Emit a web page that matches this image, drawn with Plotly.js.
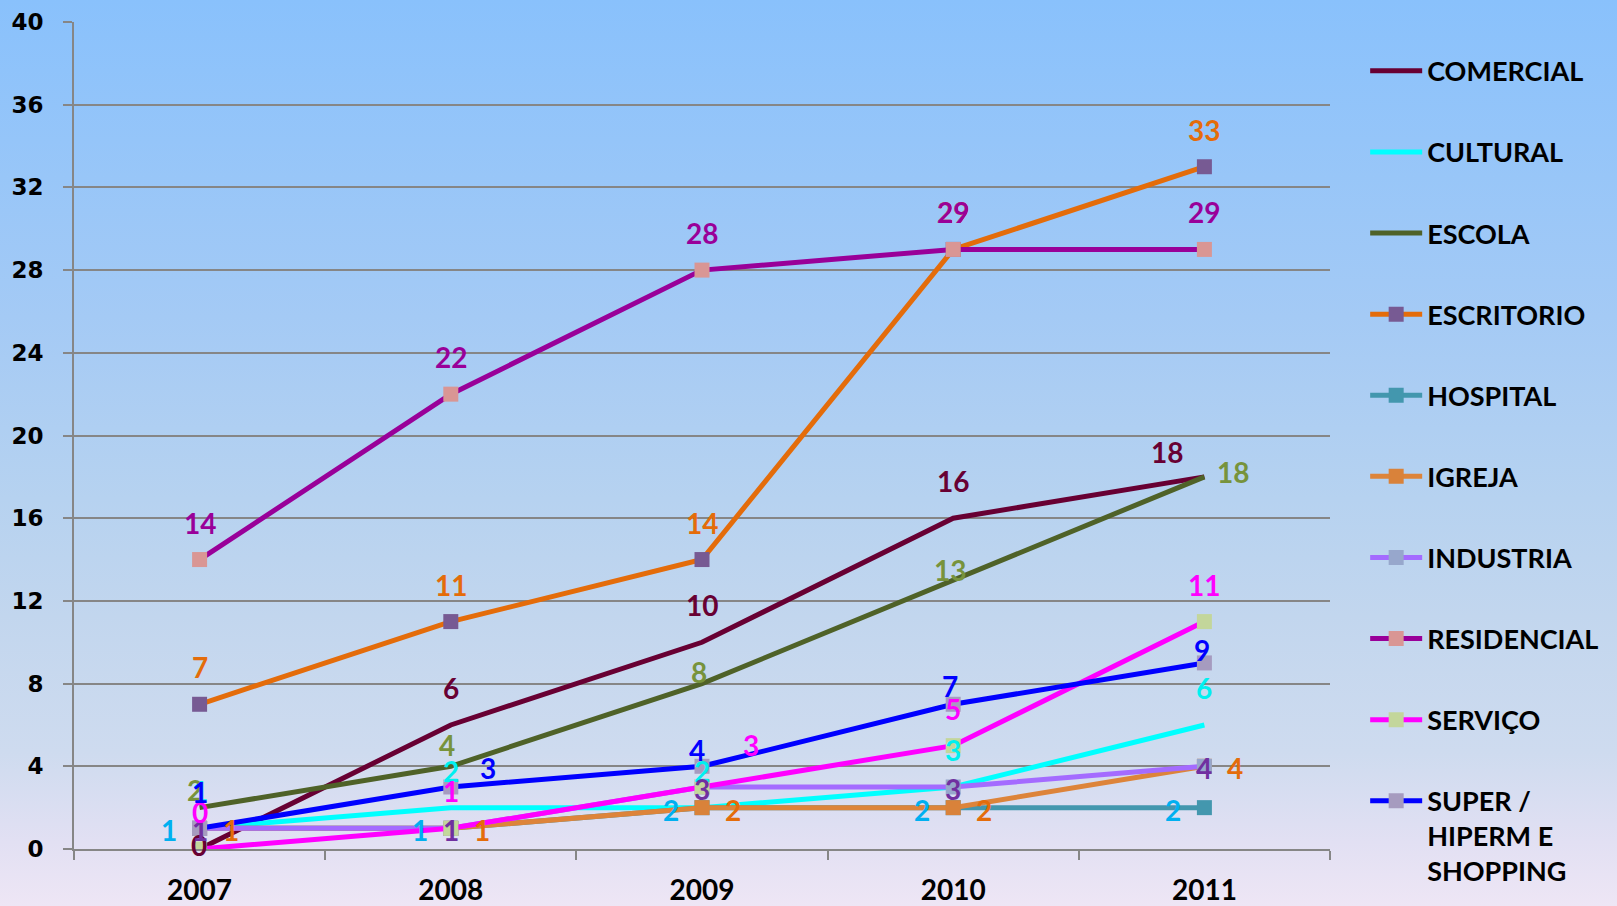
<!DOCTYPE html>
<html>
<head>
<meta charset="utf-8">
<script src="https://cdn.plot.ly/plotly-3.0.1.min.js"></script>
<style>
  html, body { margin: 0; padding: 0; width: 1617px; height: 906px; overflow: hidden; }
  body { background: linear-gradient(to bottom, #89C1FC 0%, #A4CAF5 35%, #B6D2F0 55%, #C2D6EE 68%, #CEDBEF 83%, #E2E0F3 93%, #EEE6F5 100%); }
  #chart { width: 1617px; height: 906px; }
</style>
</head>
<body>
<div id="chart"></div>
<script>
// ---- data ----
const years = ['2007', '2008', '2009', '2010', '2011'];
const comercial   = [0, 6, 10, 16, 18];
const cultural    = [1, 2, 2, 3, 6];
const escola      = [2, 4, 8, 13, 18];
const escritorio  = [7, 11, 14, 29, 33];
const hospital    = [1, 1, 2, 2, 2];
const igreja      = [1, 1, 2, 2, 4];
const industria   = [1, 1, 3, 3, 4];
const residencial = [14, 22, 28, 29, 29];
const servico     = [0, 1, 3, 5, 11];
const superHiper  = [1, 3, 4, 7, 9];
const seriesNames = ['COMERCIAL', 'CULTURAL', 'ESCOLA', 'ESCRITORIO', 'HOSPITAL', 'IGREJA',
                     'INDUSTRIA', 'RESIDENCIAL', 'SERVIÇO', 'SUPER /<br>HIPERM E<br>SHOPPING'];
const yTickValues = [0, 4, 8, 12, 16, 20, 24, 28, 32, 36, 40];

const seriesValues = [comercial, cultural, escola, escritorio, hospital, igreja,
                      industria, residencial, servico, superHiper];

// ---- styles ----
const A = [0, 37]; // label above point (xshift, yshift)
const styles = [
  { line: '#680033', marker: null,      label: '#680033', off: [[-1, 4], A, A, A, [-37, 25]] },
  { line: '#00FFFF', marker: null,      label: '#00F0F0', off: [A, A, A, A, A] },
  { line: '#4F6228', marker: null,      label: '#77933C', off: [[-5, 18], [-4, 21], [-3, 12], [-3, 10], [29, 5]] },
  { line: '#E46C0A', marker: '#775A93', label: '#E46C0A', off: [A, A, A, A, A] },
  { line: '#4397AE', marker: '#4397AE', label: '#00B0F0', off: [[-31, -2], [-31, -2], [-31, -2], [-31, -2], [-31, -2]] },
  { line: '#DD843A', marker: '#D9823A', label: '#E46C0A', off: [[31, -2], [31, -2], [31, -2], [31, -2], [31, -2]] },
  { line: '#A46BFF', marker: '#97A7CC', label: '#7030A0', off: [[0, -2], [0, -2], [0, -2], [0, -2], [0, -2]] },
  { line: '#990099', marker: '#D99694', label: '#990099', off: [A, A, A, A, A] },
  { line: '#FF00FF', marker: '#C3D69B', label: '#FF00FF', off: [A, A, [49, 42], A, A] },
  { line: '#0000FF', marker: '#A69BBF', label: '#0000FF', off: [[0, 36], [37, 19], [-5, 16], [-3, 18], [-2, 13]] }
];

const labelFont = 'Lato, "Open Sans", sans-serif';

const traces = seriesValues.map((vals, i) => {
  const st = styles[i];
  const t = {
    type: 'scatter',
    x: years,
    y: vals,
    name: seriesNames[i],
    legendgroup: 'g' + i,
    mode: st.marker ? 'lines+markers' : 'lines',
    line: { color: st.line, width: 5 },
    hoverinfo: 'x+y+name'
  };
  if (st.marker) t.marker = { symbol: 'square', size: 15, color: st.marker, line: { width: 0 } };
  return t;
});

const annotations = [];
seriesValues.forEach((vals, i) => {
  const st = styles[i];
  vals.forEach((v, j) => {
    annotations.push({
      x: j, y: v, xref: 'x', yref: 'y',
      text: '<b>' + String(v) + '</b>', showarrow: false,
      xanchor: 'center', yanchor: 'middle',
      xshift: st.off[j][0], yshift: st.off[j][1],
      font: { family: labelFont, size: 28, color: st.label }
    });
  });
});

const layout = {
  width: 1617, height: 906,
  paper_bgcolor: 'rgba(0,0,0,0)',
  plot_bgcolor: 'rgba(0,0,0,0)',
  margin: { l: 74, r: 287, t: 22, b: 57 },
  showlegend: true,
  legend: {
    x: 1.028, xanchor: 'left',
    y: 0.970, yanchor: 'top',
    bgcolor: 'rgba(0,0,0,0)',
    font: { family: labelFont, size: 27, color: '#000000', weight: 700 },
    itemwidth: 52,
    tracegroupgap: 43,
    valign: 'top',
    traceorder: 'grouped',
    maxheight: 870
  },
  xaxis: {
    type: 'category',
    range: [-0.5, 4.5],
    tickson: 'boundaries',
    ticks: 'outside', ticklen: 9, tickwidth: 2, tickcolor: '#868686',
    showline: true, linecolor: '#868686', linewidth: 2,
    showgrid: false, zeroline: false,
    tickfont: { family: labelFont, size: 28, color: '#000000', weight: 700 },
    ticklabelstandoff: 15,
    fixedrange: true
  },
  yaxis: {
    range: [0, 40],
    tickvals: yTickValues,
    ticktext: yTickValues.map(String),
    ticks: 'outside', ticklen: 9, tickwidth: 2, tickcolor: '#868686',
    showline: true, linecolor: '#868686', linewidth: 2,
    showgrid: true, gridcolor: '#868686', gridwidth: 2,
    zeroline: false,
    tickfont: { family: '"DejaVu Sans", Verdana, sans-serif', size: 23, color: '#000000', weight: 700 },
    ticklabelstandoff: 15,
    fixedrange: true
  },
  annotations: annotations
};

Plotly.newPlot('chart', traces, layout, { displayModeBar: false, staticPlot: true });
</script>
</body>
</html>
